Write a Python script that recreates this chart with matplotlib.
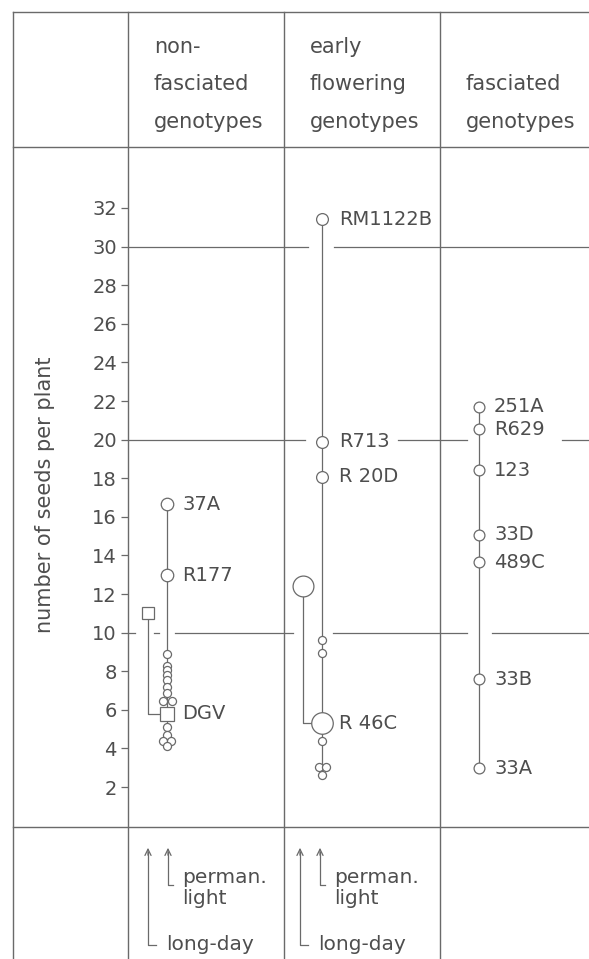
import numpy as np
import matplotlib
matplotlib.use('Agg')
import matplotlib.pyplot as plt

# ---- data ----
col_titles = [['non-', 'fasciated', 'genotypes'],
              ['early', 'flowering', 'genotypes'],
              ['fasciated', 'genotypes']]

# non-fasciated genotypes, permanent light
nonfasc_names = ['37A', 'R177']
nonfasc_vals = [16.65, 12.98]
nonfasc_small = [8.87, 8.27, 8.06, 7.80, 7.57, 7.18, 6.85, 6.48, 6.48,
                 5.11, 4.69, 4.38, 4.38, 4.15]
dgv_perm = 5.8      # DGV, permanent light
dgv_longday = 11.0  # DGV, long-day

# early flowering genotypes, permanent light
early_names = ['RM1122B', 'R713', 'R 20D', 'R 46C']
early_vals = [31.41, 19.89, 18.08, 5.30]
early_small = [9.62, 8.96, 4.38, 3.05, 3.05, 2.62]
r46c_longday = 12.41

# fasciated genotypes
fasc_names = ['251A', 'R629', '123', '33D', '489C', '33B', '33A']
fasc_vals = [21.70, 20.53, 18.42, 15.06, 13.64, 7.58, 2.97]

yticks = list(range(2, 33, 2))
grid_vals = [30, 20, 10]

# ---- layout (pixels of the 589x959 picture) ----
W, H = 589, 959
LINE = '#6a6a6a'
TXT = '#4e4e4e'
FONT = 'DejaVu Sans'

x_cols = [128, 284, 440]
y_top, y_head, y_foot = 12, 147, 827
x_left = 13

x_nf, x_nf_ld = 167, 148
x_ef, x_ef_ld = 322, 303
x_fa = 479
nf_dx = [0, 0, 0, 0, 0, 0, 0, -4.5, 4.5, 0, 0, -4, 4, 0]
ef_dx = [0, 0, 0, -3.5, 3.5, 0]

grid_segs = [[(128, 308), (334, 589)],
             [(128, 305), (398, 467), (562, 589)],
             [(129, 135), (154, 159), (175, 293), (333, 467), (492, 589)]]

fig = plt.figure(figsize=(W / 100, H / 100), dpi=100)
fig.patch.set_facecolor('white')

# table frame
bg = fig.add_axes([0, 0, 1, 1])
bg.set_xlim(0, W)
bg.set_ylim(H, 0)
bg.axis('off')
lw = 1.0
bg.plot([x_left, W], [y_top, y_top], color=LINE, lw=lw)
bg.plot([x_left, x_left], [y_top, H], color=LINE, lw=lw)
for xc in x_cols:
    bg.plot([xc, xc], [y_top, H], color=LINE, lw=lw)
bg.plot([x_left, W], [y_head, y_head], color=LINE, lw=lw)
bg.plot([x_left, W], [y_foot, y_foot], color=LINE, lw=lw)

# column headers
head_base = [53, 90, 128]
for xc, lines in zip(x_cols, col_titles):
    ys = head_base[-len(lines):]
    for t, yb in zip(lines, ys):
        bg.text(xc + 26, yb, t, fontsize=15, color=TXT, family=FONT,
                ha='left', va='baseline')

# footer arrows
for xa in [148, 300]:
    bg.plot([xa, xa, xa + 8], [852, 945, 945], color=LINE, lw=0.9)
    bg.plot([xa + 20, xa + 20, xa + 25], [852, 885, 885], color=LINE, lw=0.9)
    for xx in [xa, xa + 20]:
        bg.annotate('', xy=(xx, 845), xytext=(xx, 858),
                    arrowprops=dict(arrowstyle='->,head_length=0.45,head_width=0.22',
                                    color=LINE, lw=0.9))
    bg.text(xa + 34, 883, 'perman.', fontsize=14.5, color=TXT, family=FONT, va='baseline')
    bg.text(xa + 34, 904, 'light', fontsize=14.5, color=TXT, family=FONT, va='baseline')
    bg.text(xa + 18, 950, 'long-day', fontsize=14.5, color=TXT, family=FONT, va='baseline')

# main plot area
ax = fig.add_axes([x_cols[0] / W, 1 - y_foot / H, (W - x_cols[0]) / W, (y_foot - y_head) / H])
ax.patch.set_visible(False)
ax.set_xlim(x_cols[0], W)
ax.set_ylim(-0.07, 35.16)
for s in ax.spines.values():
    s.set_visible(False)
ax.set_xticks([])
ax.set_yticks(yticks)
ax.tick_params(axis='y', direction='out', length=5, width=0.9, color=LINE,
               labelsize=14, labelcolor=TXT, pad=3)
for lab in ax.get_yticklabels():
    lab.set_family(FONT)

for v, segs in zip(grid_vals, grid_segs):
    for a, b in segs:
        ax.plot([a, b], [v, v], color=LINE, lw=0.9, zorder=1)

fig.text(45 / W, 1 - 495 / H, 'number of seeds per plant', rotation=90,
         fontsize=15, color=TXT, family=FONT, ha='center', va='center')

mk = dict(markerfacecolor='white', markeredgecolor=LINE, markeredgewidth=0.9,
          linestyle='none', zorder=3)

# non-fasciated
all_nf = nonfasc_vals + nonfasc_small
ax.plot([x_nf, x_nf], [min(all_nf), max(all_nf)], color=LINE, lw=0.9, zorder=2)
ax.plot([x_nf_ld, x_nf_ld, x_nf], [dgv_longday, dgv_perm, dgv_perm], color=LINE, lw=0.9, zorder=2)
ax.plot(x_nf + np.array(nf_dx), nonfasc_small, marker='o', markersize=5.8, **mk)
ax.plot([x_nf] * len(nonfasc_vals), nonfasc_vals, marker='o', markersize=9, **mk)
ax.plot([x_nf], [dgv_perm], marker='s', markersize=10, **mk)
ax.plot([x_nf_ld], [dgv_longday], marker='s', markersize=8.5, **mk)
for n, v in zip(nonfasc_names + ['DGV'], nonfasc_vals + [dgv_perm]):
    ax.text(x_nf + 15, v, n, fontsize=14, color=TXT, family=FONT, va='center', ha='left')

# early flowering
all_ef = early_vals + early_small
ax.plot([x_ef, x_ef], [min(all_ef), max(all_ef)], color=LINE, lw=0.9, zorder=2)
ax.plot([x_ef_ld, x_ef_ld, x_ef], [r46c_longday, early_vals[-1], early_vals[-1]],
        color=LINE, lw=0.9, zorder=2)
ax.plot(x_ef + np.array(ef_dx), early_small, marker='o', markersize=5.8, **mk)
ax.plot([x_ef] * 3, early_vals[:3], marker='o', markersize=8.5, **mk)
ax.plot([x_ef], [early_vals[-1]], marker='o', markersize=15.5, **mk)
ax.plot([x_ef_ld], [r46c_longday], marker='o', markersize=15, **mk)
for n, v in zip(early_names, early_vals):
    ax.text(x_ef + 17, v, n, fontsize=14, color=TXT, family=FONT, va='center', ha='left')

# fasciated
ax.plot([x_fa, x_fa], [min(fasc_vals), max(fasc_vals)], color=LINE, lw=0.9, zorder=2)
ax.plot([x_fa] * len(fasc_vals), fasc_vals, marker='o', markersize=7.8, **mk)
for n, v in zip(fasc_names, fasc_vals):
    ax.text(x_fa + 15, v, n, fontsize=14, color=TXT, family=FONT, va='center', ha='left')

fig.savefig('out.png', dpi=100)
